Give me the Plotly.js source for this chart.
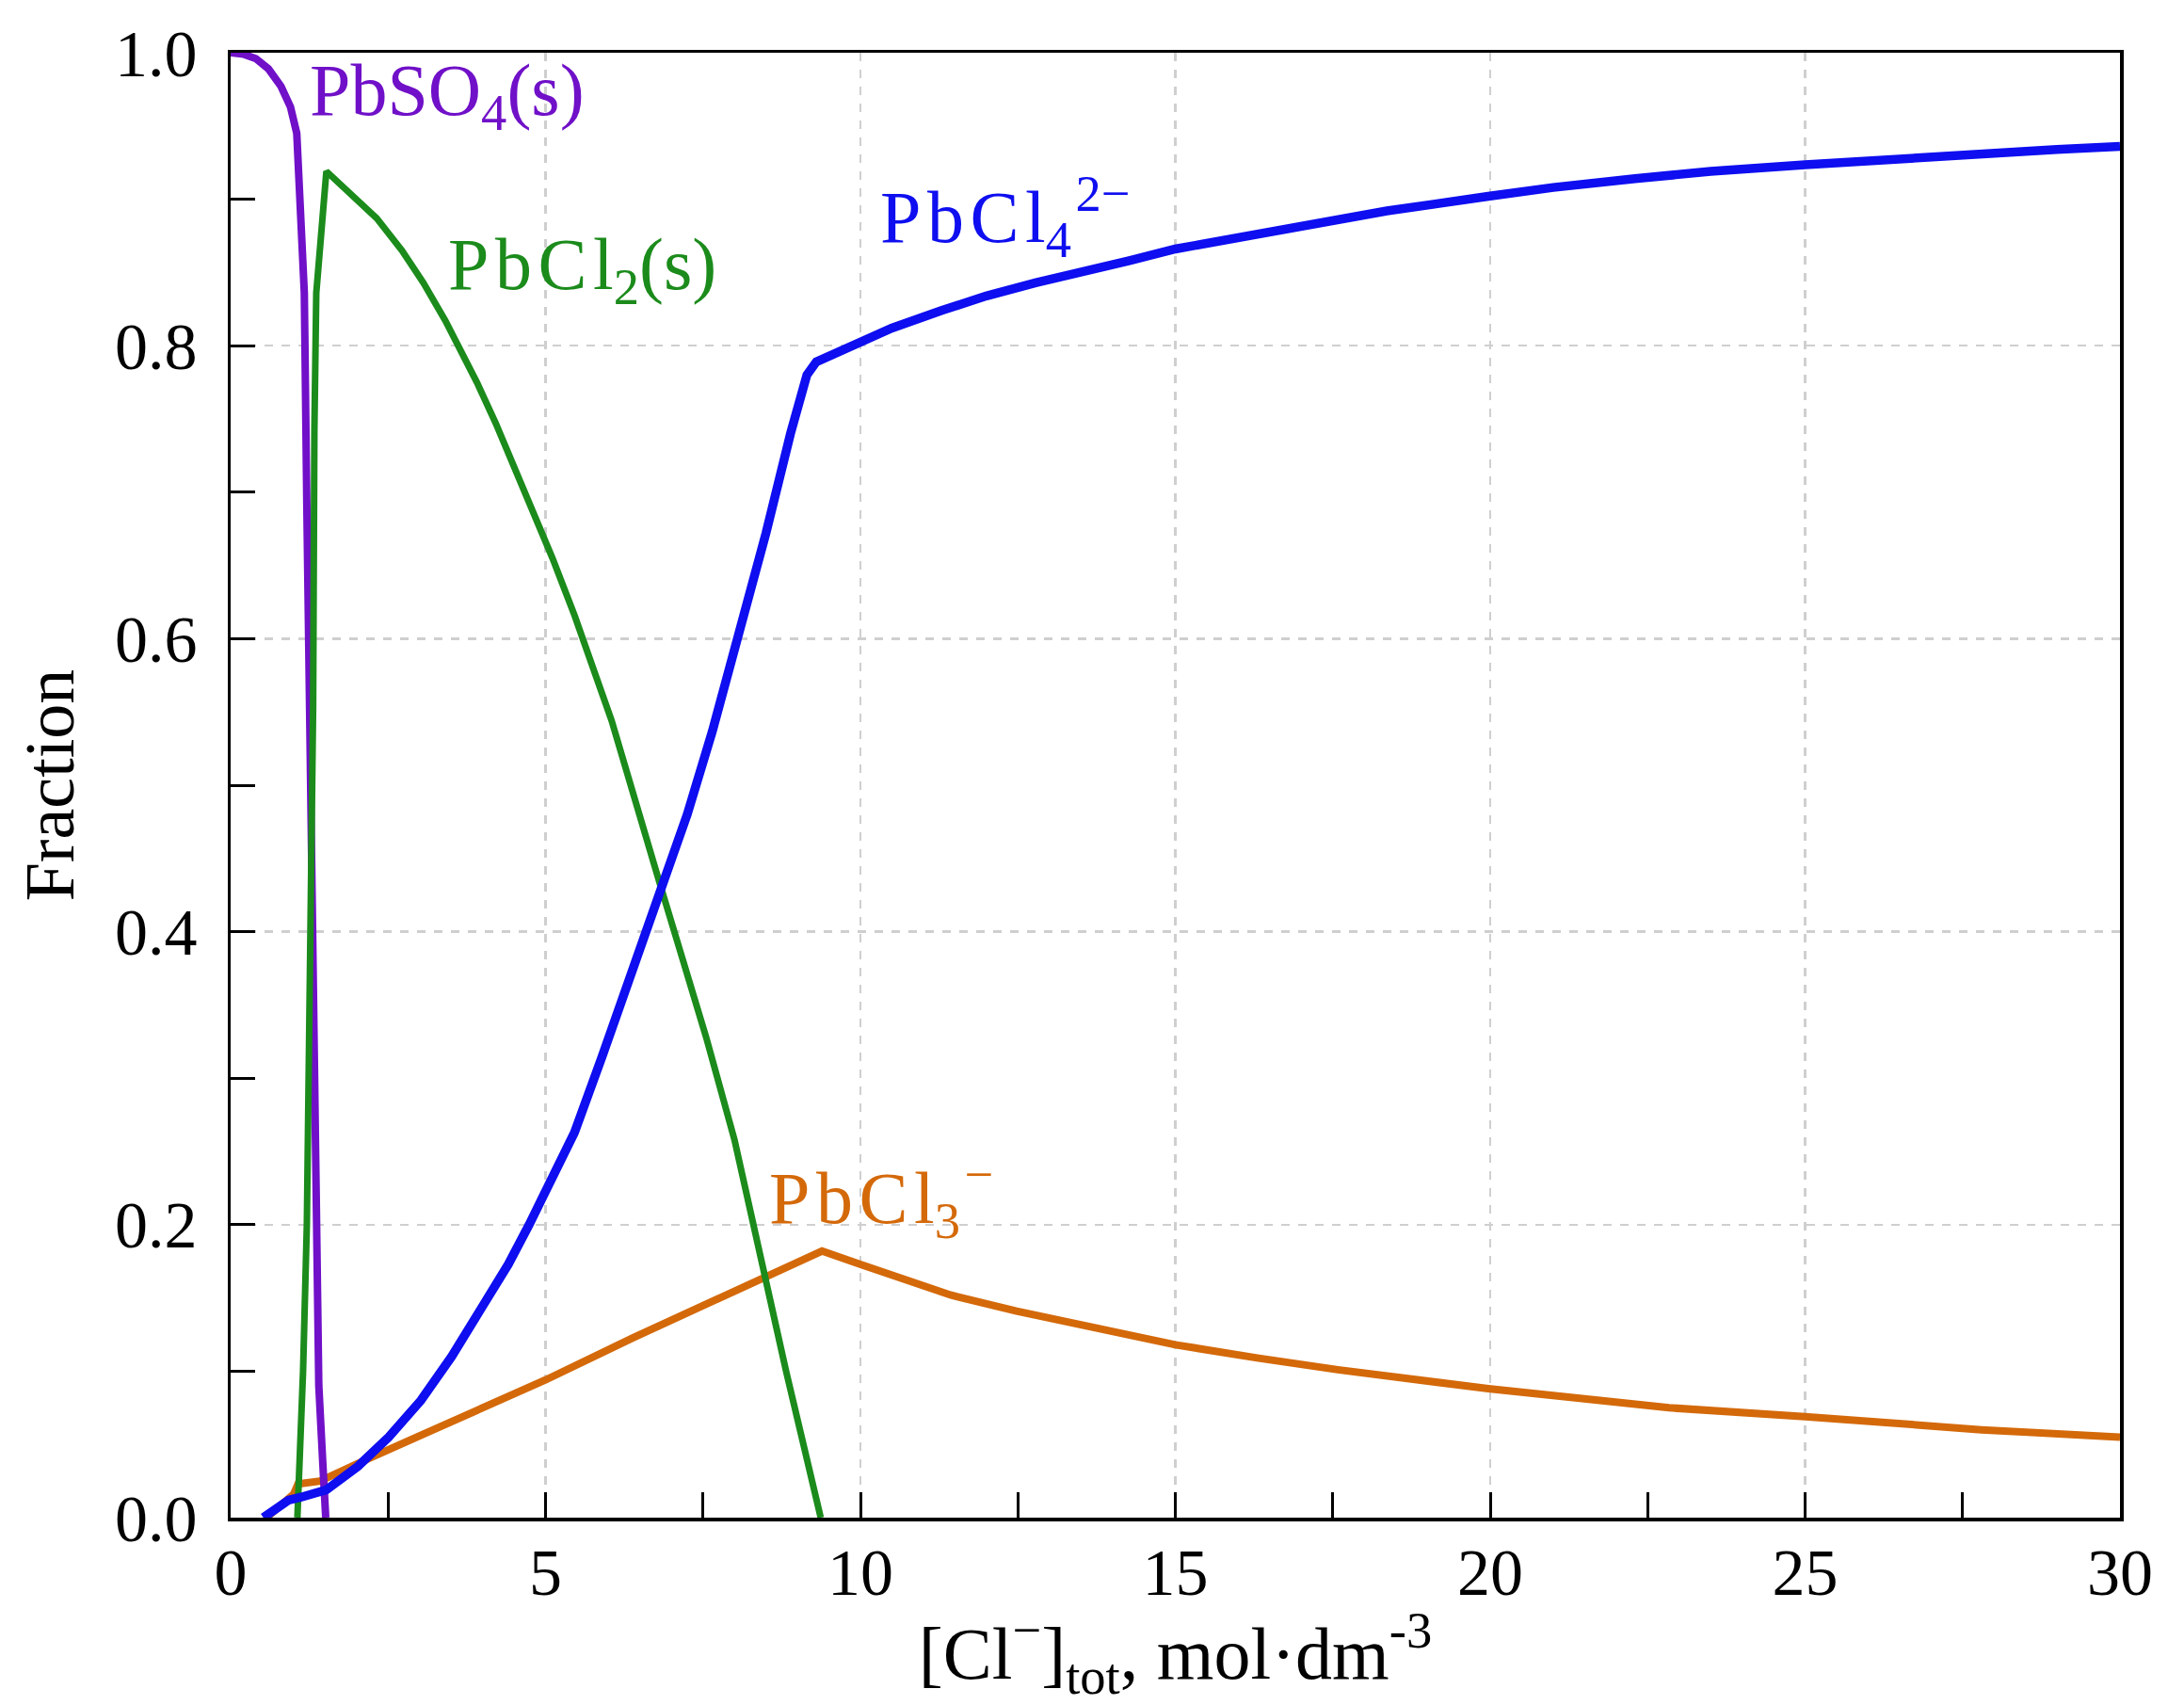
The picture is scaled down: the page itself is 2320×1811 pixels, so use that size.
<!DOCTYPE html>
<html>
<head>
<meta charset="utf-8">
<script src="https://cdn.plot.ly/plotly-3.0.1.min.js"></script>
<style>html,body{margin:0;padding:0;background:#fff;}</style>
</head>
<body>
<div id="chart" style="width:2320px;height:1811px;"></div>
<script>
// PbSO4(s)
const pbso4X = [0, 0.2, 0.4, 0.6, 0.8, 0.95, 1.05, 1.12, 1.17, 1.21, 1.25, 1.30, 1.35, 1.40, 1.46, 1.51];
const pbso4Y = [1.0, 0.999, 0.996, 0.989, 0.977, 0.963, 0.945, 0.89, 0.836, 0.69, 0.554, 0.38, 0.20, 0.09, 0.04, 0.0];
// PbCl2(s)
const pbcl2X = [1.06, 1.15, 1.21, 1.28, 1.31, 1.33, 1.36, 1.52, 1.92, 2.32, 2.72, 3.06, 3.41, 3.66, 3.91, 4.21, 4.51, 4.81, 5.11, 5.46, 6.05, 6.8, 7.55, 8.0, 8.3, 8.82, 9.37];
const pbcl2Y = [0.0, 0.1, 0.2, 0.45, 0.554, 0.743, 0.836, 0.919, 0.903, 0.887, 0.865, 0.843, 0.817, 0.796, 0.775, 0.747, 0.717, 0.687, 0.655, 0.616, 0.544, 0.435, 0.328, 0.258, 0.200, 0.100, 0.0];
// PbCl4 2-
const pbcl4X = [0.52, 0.92, 1.12, 1.52, 2.02, 2.51, 3.02, 3.51, 4.01, 4.41, 4.74, 5.1, 5.46, 5.9, 6.2, 6.5, 6.85, 7.25, 7.65, 8.04, 8.5, 8.89, 9.15, 9.3, 9.79, 10.5, 11.29, 12.0, 12.78, 13.5, 14.27, 15, 16, 17, 18.36, 19.97, 21, 22.3, 23.5, 25, 26.5, 27.8, 29, 30];
const pbcl4Y = [0.0, 0.012, 0.014, 0.019, 0.035, 0.055, 0.080, 0.11, 0.145, 0.173, 0.2, 0.23, 0.263, 0.315, 0.352, 0.392, 0.432, 0.480, 0.537, 0.597, 0.672, 0.740, 0.780, 0.789, 0.798, 0.812, 0.824, 0.834, 0.843, 0.851, 0.858, 0.866, 0.874, 0.881, 0.892, 0.902, 0.908, 0.914, 0.919, 0.9235, 0.928, 0.931, 0.934, 0.936];
// PbCl3 -
const pbcl3X = [0.57, 1.0, 1.07, 1.42, 2.17, 3.41, 5.0, 6.4, 7.4, 8.0, 8.5, 9.0, 9.39, 9.99, 10.7, 11.43, 12.48, 13.53, 15, 16.3, 17.58, 19.97, 21.4, 22.84, 25, 27.8, 30];
const pbcl3Y = [0.0, 0.016, 0.023, 0.025, 0.04, 0.064, 0.094, 0.123, 0.143, 0.155, 0.165, 0.175, 0.182, 0.173, 0.162, 0.152, 0.141, 0.131, 0.118, 0.109, 0.101, 0.088, 0.081, 0.075, 0.069, 0.060, 0.055];

const xTickVals = [0, 5, 10, 15, 20, 25, 30];
const yTickVals = [0, 0.2, 0.4, 0.6, 0.8, 1.0];
const yTickText = ['0.0', '0.2', '0.4', '0.6', '0.8', '1.0'];

const cPurple = '#7010C8', cGreen = '#1B8B1B', cBlue = '#0E0EF0', cOrange = '#D4690A';
const FONT = 'Liberation Serif, Times New Roman, serif';
const HS = '\u200A';

const traces = [
  {x: pbcl3X, y: pbcl3Y, mode: 'lines', line: {color: cOrange, width: 8}, hoverinfo: 'skip'},
  {x: pbso4X, y: pbso4Y, mode: 'lines', line: {color: cPurple, width: 8}, hoverinfo: 'skip'},
  {x: pbcl2X, y: pbcl2Y, mode: 'lines', line: {color: cGreen, width: 7}, hoverinfo: 'skip'},
  {x: pbcl4X, y: pbcl4Y, mode: 'lines', line: {color: cBlue, width: 9.5}, hoverinfo: 'skip'}
];

const ann = (text, x, y, color) => ({
  text: text, x: x, y: y, xref: 'x', yref: 'y', xanchor: 'left', yanchor: 'middle',
  showarrow: false, font: {family: FONT, size: 78, color: color}
});

const layout = {
  width: 2320, height: 1811,
  margin: {l: 245, r: 68, t: 56, b: 199},
  paper_bgcolor: '#fff', plot_bgcolor: '#fff',
  showlegend: false,
  font: {family: FONT, size: 68, color: '#000'},
  xaxis: {
    range: [0, 30], tickvals: xTickVals, ticks: 'inside', ticklen: 27, tickwidth: 3, tickcolor: '#000',
    showline: true, linewidth: 3.5, linecolor: '#000', mirror: true,
    showgrid: true, gridcolor: '#cfcfcf', gridwidth: 2.5, griddash: 'dash',
    zeroline: false, ticklabelstandoff: -6,
    tickfont: {family: FONT, size: 70, color: '#000'},
    minor: {dtick: 2.5, tick0: 0, ticks: 'inside', ticklen: 27, tickwidth: 3, tickcolor: '#000', showgrid: false},
    title: {text: '[Cl<sup>−</sup>]<sub>tot</sub>, mol·dm<sup>-3</sup>', font: {family: FONT, size: 78, color: '#000'}, standoff: 8}
  },
  yaxis: {
    range: [0, 1], tickvals: yTickVals, ticktext: yTickText, ticks: 'inside', ticklen: 26, tickwidth: 3, tickcolor: '#000',
    showline: true, linewidth: 3.5, linecolor: '#000', mirror: true,
    showgrid: true, gridcolor: '#cfcfcf', gridwidth: 2.5, griddash: 'dash',
    zeroline: false, ticklabelstandoff: 18,
    tickfont: {family: FONT, size: 70, color: '#000'},
    minor: {dtick: 0.1, tick0: 0, ticks: 'inside', ticklen: 26, tickwidth: 3, tickcolor: '#000', showgrid: false},
    title: {text: 'Fraction', font: {family: FONT, size: 74, color: '#000'}, standoff: 20}
  },
  annotations: [
    ann('PbSO<sub>4</sub>(s)', 1.23, 0.971, cPurple),
    ann('P' + HS + 'b' + HS + 'C' + HS + 'l<sub>2</sub>(s)', 3.42, 0.852, cGreen),
    ann('P' + HS + 'b' + HS + 'C' + HS + 'l<sub>4</sub><sup>' + HS + '2−</sup>', 10.28, 0.888, cBlue),
    ann('P' + HS + 'b' + HS + 'C' + HS + 'l<sub>3</sub><sup>' + HS + '−</sup>', 8.52, 0.2185, cOrange)
  ]
};

Plotly.newPlot('chart', traces, layout, {staticPlot: true, displayModeBar: false});
</script>
</body>
</html>
